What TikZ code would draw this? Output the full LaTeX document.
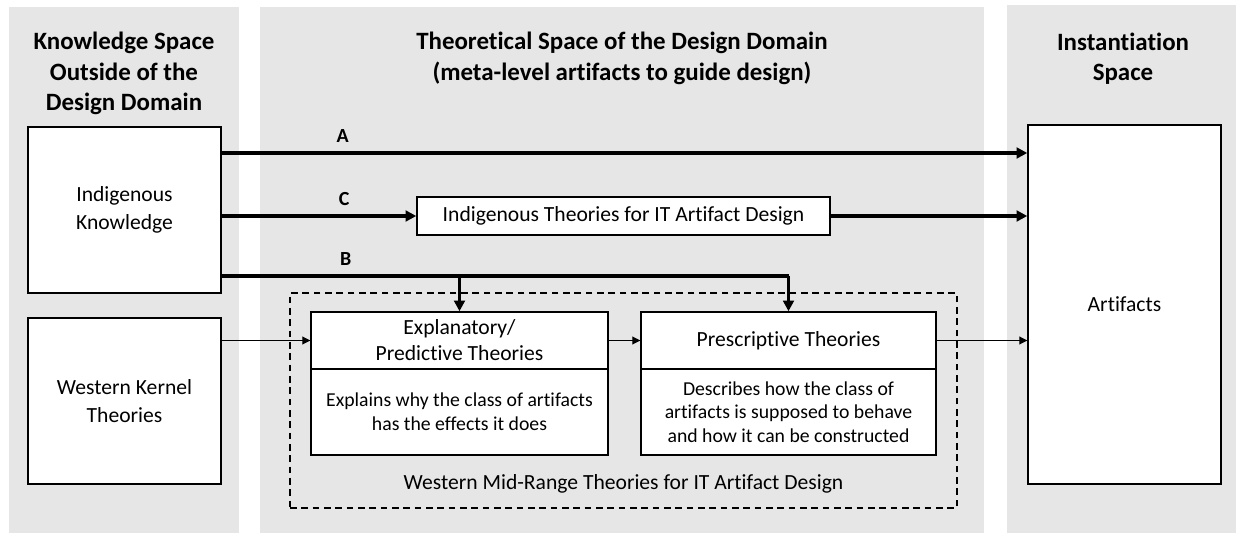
\documentclass[tikz,border=0pt]{standalone}
\usepackage{fontspec}
\setmainfont[Ligatures=NoCommon]{Carlito}
\usetikzlibrary{arrows.meta,positioning}

\definecolor{panelgray}{HTML}{E6E6E6}

\begin{document}
\begin{tikzpicture}[x=0.75pt, y=-0.75pt,
  box/.style={draw, fill=white, line width=1.1pt, align=center, inner sep=0pt,
    font=\fontsize{16.2}{21}\selectfont},
  small/.style={font=\fontsize{14.8}{17.8}\selectfont},
  title/.style={align=center, font=\fontsize{18.7}{22.9}\selectfont\bfseries},
  flow/.style={line width=2.4pt, -{Triangle[length=8pt,width=8pt]}},
  link/.style={line width=0.75pt, -{Triangle[length=6pt,width=6pt]}},
  tag/.style={font=\fontsize{15}{18}\selectfont\bfseries}]

\useasboundingbox (0,0) rectangle (1236,534);

% ---- the three spaces ------------------------------------------------------
\fill[panelgray] (9,7)    rectangle (239,533);
\fill[panelgray] (260,7)  rectangle (984,533);
\fill[panelgray] (1007,5) rectangle (1236,533);

\node[title] (ttlknow) at (124,73.5)  {Knowledge Space\\Outside of the\\Design Domain};
\node[title] (ttltheo) at (622,58.5)  {Theoretical Space of the Design Domain\\(meta-level artifacts to guide design)};
\node[title] (ttlinst) at (1123,58.5) {Instantiation\\Space};

% ---- knowledge sources -----------------------------------------------------
\node[box, minimum width=144.75pt, minimum height=124.5pt] (ik) at (124.5,210) {Indigenous\\Knowledge};
\node[box, minimum width=144.75pt, minimum height=124.5pt] (wk) at (124.5,401) {Western Kernel\\Theories};

% ---- artifacts -------------------------------------------------------------
\node[box, minimum width=144.75pt, minimum height=269.25pt] (art) at (1124.5,304.5) {Artifacts};

% ---- theories --------------------------------------------------------------
\node[box, minimum width=309.75pt, minimum height=28.5pt] (it) at (623.5,216) {Indigenous Theories for IT Artifact Design};

\node[draw, dashed, dash pattern=on 5pt off 3.5pt, line width=0.9pt,
  minimum width=500.25pt, minimum height=161.25pt] (mid) at (623.5,400.5) {};
\node[font=\fontsize{16.2}{19}\selectfont] (midlbl) at (623.5,484) {Western Mid-Range Theories for IT Artifact Design};

\node[box, minimum width=222.75pt, minimum height=42.75pt, font=\fontsize{16.2}{19.5}\selectfont] (exphead) at (459.5,340.5) {Explanatory/\\Predictive Theories};
\node[box, small, minimum width=222.75pt, minimum height=64.5pt] (expbody) at (459.5,412) {Explains why the class of artifacts\\has the effects it does};
\node[box, minimum width=221.25pt, minimum height=42.75pt] (prehead) at (788.5,340.5) {Prescriptive Theories};
\node[box, small, minimum width=221.25pt, minimum height=64.5pt] (prebody) at (788.5,412) {Describes how the class of\\artifacts is supposed to behave\\and how it can be constructed};

% ---- paths A, B, C ---------------------------------------------------------
\draw[flow] (ik.east |- 0,153) -- (art.west |- 0,153) node[tag, pos=0.15, above=3.5pt] (ltrA) {A};
\draw[flow] (ik.east |- it.west) -- (it.west) node[tag, pos=0.63, above=3.5pt] (ltrC) {C};
\draw[flow] (it.east) -- (art.west |- it.east);
\draw[line width=2.4pt] (ik.east |- 0,276) -- (prehead.north |- 0,276) node[tag, pos=0.219, above=3.5pt] (ltrB) {B};
\draw[flow] (exphead.north |- 0,276) -- (exphead.north);
\draw[flow] (prehead.north |- 0,276) -- (prehead.north);

% ---- kernel theories into the mid-range theories ---------------------------
\draw[link] (wk.east |- exphead.west) -- (exphead.west);
\draw[link] (exphead.east) -- (prehead.west);
\draw[link] (prehead.east) -- (art.west |- prehead.east);

\end{tikzpicture}
\end{document}
